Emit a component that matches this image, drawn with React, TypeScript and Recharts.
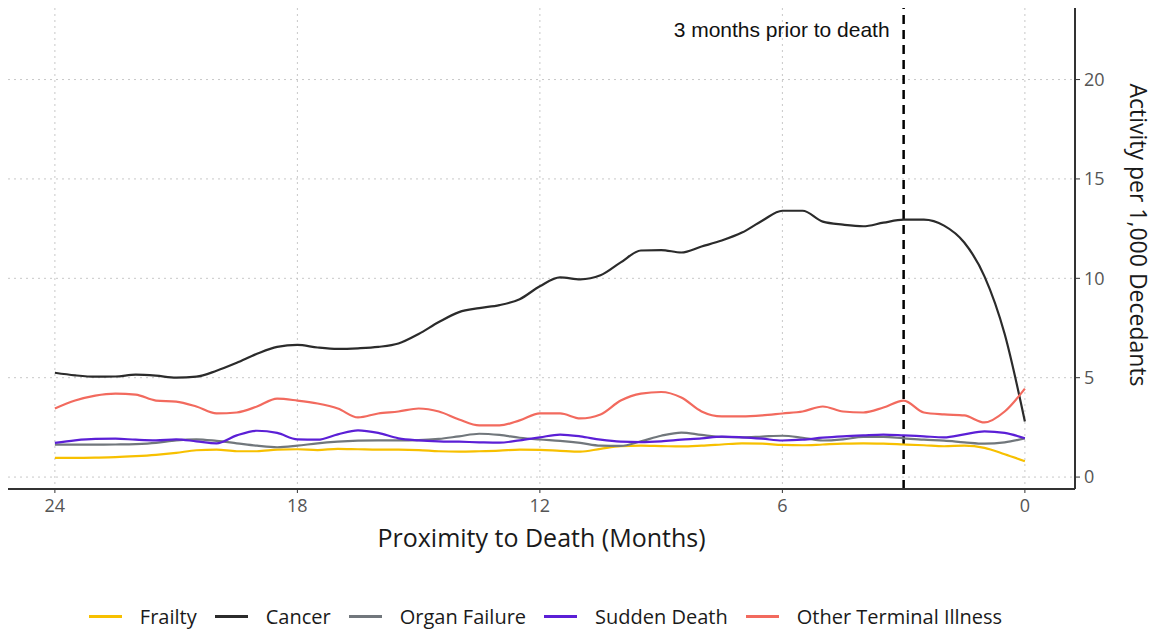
import React from "react";
import {
  LineChart,
  Line,
  XAxis,
  YAxis,
  CartesianGrid,
  ReferenceLine,
  Legend,
  Label,
} from "recharts";

// months before death (x axis runs 24 -> 0)
const months = [
  24, 23.5, 23, 22.5, 22, 21.5, 21, 20.5, 20, 19.5, 19, 18.5, 18, 17.5, 17, 16.5,
  16, 15.5, 15, 14.5, 14, 13.5, 13, 12.5, 12, 11.5, 11, 10.5, 10, 9.5, 9, 8.5,
  8, 7.5, 7, 6.5, 6, 5.5, 5, 4.5, 4, 3.5, 3, 2.5, 2, 1.5, 1, 0.5, 0,
];

const frailty = [
  0.97, 0.97, 0.98, 1.0, 1.05, 1.12, 1.22, 1.35, 1.38, 1.3, 1.3, 1.38, 1.4, 1.36, 1.42, 1.4,
  1.38, 1.38, 1.36, 1.3, 1.28, 1.3, 1.33, 1.38, 1.37, 1.32, 1.28, 1.42, 1.55, 1.58, 1.56, 1.54,
  1.58, 1.64, 1.7, 1.68, 1.62, 1.6, 1.64, 1.68, 1.7, 1.68, 1.64, 1.6, 1.55, 1.58, 1.47, 1.15, 0.8,
];

const cancer = [
  5.25, 5.12, 5.05, 5.06, 5.15, 5.1, 5.0, 5.05, 5.35, 5.75, 6.2, 6.55, 6.65, 6.52, 6.45, 6.48,
  6.55, 6.72, 7.2, 7.8, 8.3, 8.5, 8.65, 8.95, 9.6, 10.05, 9.95, 10.15, 10.8, 11.4, 11.42, 11.3,
  11.6, 11.9, 12.3, 12.9, 13.4, 13.4, 12.85, 12.7, 12.62, 12.8, 12.95, 12.95, 12.65, 11.8, 10.1, 7.2, 2.8,
];

const organFailure = [
  1.63, 1.63, 1.63, 1.64, 1.66, 1.72, 1.85, 1.9, 1.82, 1.7, 1.58, 1.5, 1.58, 1.7, 1.78, 1.83,
  1.85, 1.85, 1.86, 1.92, 2.05, 2.18, 2.12, 1.98, 1.89, 1.82, 1.72, 1.58, 1.57, 1.8, 2.08, 2.24,
  2.12, 2.02, 2.0, 2.04, 2.08, 1.98, 1.84, 1.9, 2.02, 2.02, 1.95, 1.88, 1.83, 1.75, 1.68, 1.75, 1.95,
];

const suddenDeath = [
  1.72, 1.85, 1.92, 1.93, 1.88, 1.85, 1.9, 1.8, 1.7, 2.1, 2.33, 2.22, 1.9, 1.88, 2.15, 2.35,
  2.22, 1.95, 1.85, 1.8, 1.78, 1.75, 1.73, 1.85, 2.0, 2.14, 2.05, 1.88, 1.78, 1.76, 1.8, 1.88,
  1.95, 2.04, 2.0, 1.93, 1.84, 1.88, 1.98, 2.05, 2.1, 2.14, 2.1, 2.05, 2.0, 2.15, 2.3, 2.22, 1.95,
];

const otherTerminal = [
  3.45, 3.85, 4.1, 4.2, 4.15, 3.85, 3.8, 3.55, 3.2, 3.25, 3.55, 3.95, 3.85, 3.7, 3.45, 3.0,
  3.2, 3.3, 3.45, 3.3, 2.9, 2.6, 2.6, 2.85, 3.2, 3.2, 2.95, 3.15, 3.85, 4.2, 4.28, 4.0,
  3.3, 3.05, 3.05, 3.1, 3.2, 3.3, 3.55, 3.3, 3.25, 3.5, 3.85, 3.25, 3.15, 3.1, 2.75, 3.3, 4.45,
];

const xTicks = [24, 18, 12, 6, 0];
const yTicks = [0, 5, 10, 15, 20];

const series = [
  { key: "frailty", name: "Frailty", color: "#F7C000" },
  { key: "cancer", name: "Cancer", color: "#2B2B2B" },
  { key: "organFailure", name: "Organ Failure", color: "#71777C" },
  { key: "suddenDeath", name: "Sudden Death", color: "#5B1FD6" },
  { key: "otherTerminal", name: "Other Terminal Illness", color: "#F26A5E" },
];

const data = months.map((m, i) => ({
  month: m,
  frailty: frailty[i],
  cancer: cancer[i],
  organFailure: organFailure[i],
  suddenDeath: suddenDeath[i],
  otherTerminal: otherTerminal[i],
}));

const font = "'Open Sans', 'Noto Sans', sans-serif";

function LegendContent() {
  return (
    <div
      style={{
        display: "flex",
        justifyContent: "center",
        alignItems: "center",
        height: 34,
        paddingRight: 60,
        fontFamily: font,
        fontSize: 20,
        color: "#1a1a1a",
      }}
    >
      {series.map((s) => (
        <div key={s.key} style={{ display: "flex", alignItems: "center", marginRight: 18 }}>
          <div style={{ width: 33, height: 3, background: s.color, marginRight: 18 }} />
          <span>{s.name}</span>
        </div>
      ))}
    </div>
  );
}

function YTitle(props: any) {
  const vb = props.viewBox || {};
  const cx = vb.x + 64;
  const cy = 235;
  return (
    <text
      x={cx}
      y={cy}
      transform={`rotate(90, ${cx}, ${cy})`}
      textAnchor="middle"
      dominantBaseline="central"
      fontFamily={font}
      fontSize={23}
      fill="#1a1a1a"
    >
      Activity per 1,000 Decedants
    </text>
  );
}

export default function App() {
  return (
    <div style={{ position: "absolute", left: 0, top: 0, background: "#fff" }}>
      <LineChart
        width={1161}
        height={633}
        data={data}
        margin={{ top: 8, right: 0, bottom: 0, left: 8 }}
      >
        <CartesianGrid
          stroke="#c8c8c8"
          strokeDasharray="2 4"
          horizontalValues={yTicks}
          verticalValues={xTicks}
        />
        <XAxis
          dataKey="month"
          type="number"
          domain={[-1.24, 25.16]}
          reversed
          allowDataOverflow
          ticks={xTicks}
          height={110}
          tickSize={4}
          tickMargin={6}
          tick={{ fontSize: 18, fill: "#555", fontFamily: font }}
          axisLine={{ stroke: "#333", strokeWidth: 2 }}
          tickLine={{ stroke: "#333" }}
        >
          <Label
            value="Proximity to Death (Months)"
            position="insideTop"
            offset={40}
            fontSize={25}
            fill="#1a1a1a"
            fontFamily={font}
          />
        </XAxis>
        <YAxis
          orientation="right"
          type="number"
          domain={[-0.6, 23.6]}
          allowDataOverflow
          ticks={yTicks}
          width={86}
          tickSize={5}
          tickMargin={4}
          tick={{ fontSize: 18, fill: "#555", fontFamily: font, textAnchor: "start" }}
          axisLine={{ stroke: "#333", strokeWidth: 2 }}
          tickLine={{ stroke: "#333" }}
        >
          <Label content={<YTitle />} />
        </YAxis>
        <ReferenceLine
          x={3}
          stroke="#000"
          strokeWidth={2.5}
          strokeDasharray="9 6"
          label={{
            value: "3 months prior to death",
            position: "insideTopRight",
            offset: 14,
            fontSize: 21,
            fill: "#111",
            fontFamily: "'Liberation Sans', Arial, sans-serif",
          }}
        />
        <Legend verticalAlign="bottom" content={<LegendContent />} />
        {series.map((s) => (
          <Line
            key={s.key}
            dataKey={s.key}
            name={s.name}
            type="monotone"
            stroke={s.color}
            strokeWidth={2.2}
            dot={false}
            activeDot={false}
            isAnimationActive={false}
          />
        ))}
      </LineChart>
    </div>
  );
}
